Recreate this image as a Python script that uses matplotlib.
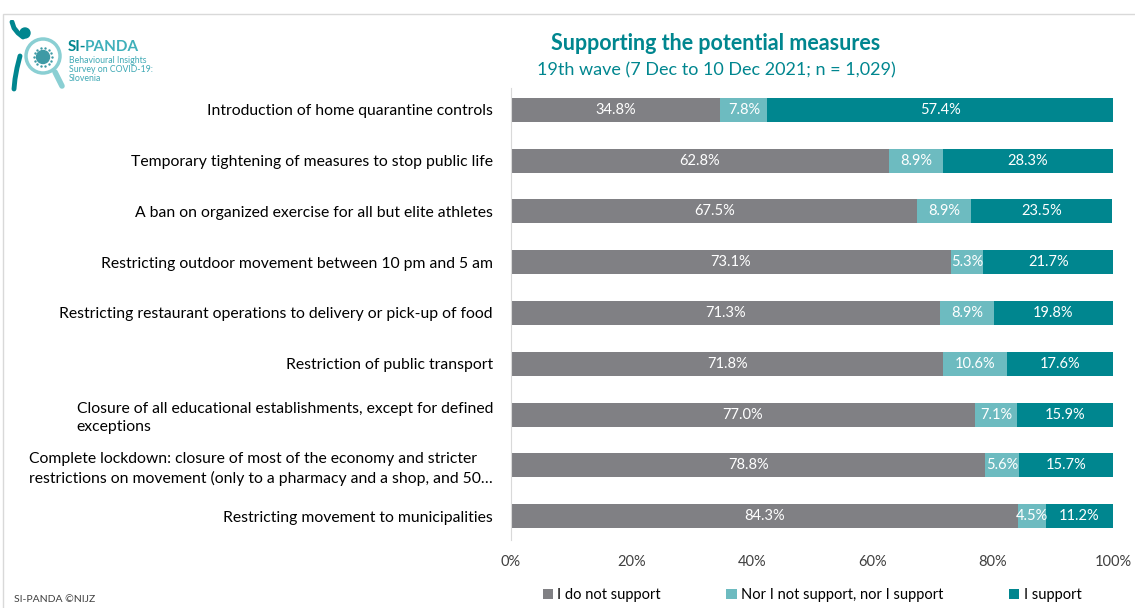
import matplotlib.pyplot as plt
import numpy as np
from matplotlib.patches import Circle, Rectangle

plt.rcParams['font.family'] = ['Lato', 'DejaVu Sans']

measures = [
    'Introduction of home quarantine controls',
    'Temporary tightening of measures to stop public life',
    'A ban on organized exercise for all but elite athletes',
    'Restricting outdoor movement between 10 pm and 5 am',
    'Restricting restaurant operations to delivery or pick-up of food',
    'Restriction of public transport',
    'Closure of all educational establishments, except for defined\nexceptions',
    'Complete lockdown: closure of most of the economy and stricter\nrestrictions on movement (only to a pharmacy and a shop, and 50\u2026',
    'Restricting movement to municipalities',
]
not_support = [34.8, 62.8, 67.5, 73.1, 71.3, 71.8, 77.0, 78.8, 84.3]
neutral = [7.8, 8.9, 8.9, 5.3, 8.9, 10.6, 7.1, 5.6, 4.5]
support = [57.4, 28.3, 23.5, 21.7, 19.8, 17.6, 15.9, 15.7, 11.2]

series_names = ['I do not support', 'Nor I not support, nor I support', 'I support']
colors = ['#808084', '#6DBBC0', '#00868F']
title_col = '#00868F'

W, H = 1135, 608
fig = plt.figure(figsize=(W / 100, H / 100), dpi=100)
ax = fig.add_axes([0.4502, 0.1118, 0.5304, 0.7435])

y = np.arange(len(measures))
left = np.zeros(len(measures))
for vals, name, col in zip([not_support, neutral, support], series_names, colors):
    vals = np.array(vals)
    ax.barh(y, vals, left=left, height=0.47, color=col, label=name)
    for yi, l, v in zip(y, left, vals):
        ax.text(l + v / 2, yi, f'{v:.1f}%', ha='center', va='center',
                color='white', fontsize=10.5)
    left += vals

ax.set_xlim(0, 100)
ax.set_ylim(8.47, -0.43)
ax.set_yticks(y)
ax.set_yticklabels(measures, fontsize=11.3, multialignment='left', linespacing=1.35)
ax.set_xticks(np.arange(0, 101, 20))
ax.set_xticklabels([f'{t}%' for t in range(0, 101, 20)], fontsize=10.5, color='#404040')
ax.tick_params(length=0)
ax.tick_params(axis='y', pad=13)
ax.tick_params(axis='x', pad=11)
for s in ['top', 'right', 'bottom']:
    ax.spines[s].set_visible(False)
ax.spines['left'].set_color('#d9d9d9')

ax.legend(loc='upper center', bbox_to_anchor=(0.5, -0.077), ncol=3, frameon=False,
          fontsize=10.5, handlelength=0.7, handleheight=0.7, handletextpad=0.3,
          columnspacing=4.5)

fig.text(716 / W, 1 - 44 / H, 'Supporting the potential measures', ha='center',
         va='center', fontsize=15.5, fontweight='bold', color=title_col)
fig.text(716 / W, 1 - 70 / H, '19th wave (7 Dec to 10 Dec 2021; n = 1,029)', ha='center',
         va='center', fontsize=13, color=title_col)
fig.text(14 / W, 1 - 599 / H, 'SI-PANDA \u00a9NIJZ', fontsize=7.5, color='#404040',
         va='center')

# frame lines at top and left
fig.add_artist(Rectangle((3 / W, -0.01), 1.1, 1 - 14 / H + 0.01, transform=fig.transFigure,
                         fill=False, edgecolor='#d9d9d9', linewidth=1))

# logo drawn in pixel units
lg = fig.add_axes([5 / W, 1 - 100 / H, 65 / W, 80 / H])
lg.set_xlim(5, 70)
lg.set_ylim(100, 20)
lg.axis('off')
lg.plot([20, 17, 15, 14], [56, 68, 79, 89], color='#00868F', linewidth=3.5,
        solid_capstyle='round')
lg.plot([55, 62], [72, 86], color='#8ACFD3', linewidth=4, solid_capstyle='round')
lg.add_patch(Circle((43, 56), 17, facecolor='white', edgecolor='#8ACFD3', linewidth=2.5))
ang = np.linspace(0, 2 * np.pi, 14, endpoint=False)
lg.scatter(43 + 9 * np.cos(ang), 57 + 9 * np.sin(ang), s=3, color='#3E9AA5', lw=0)
lg.add_patch(Circle((43, 57), 6.5, color='#3E9AA5'))
lg.add_patch(Circle((25, 33), 5, color='#00868F'))
lg.plot([12, 14, 18, 23], [22, 28, 33, 37], color='#00868F', linewidth=3.5,
        solid_capstyle='round')

fig.text(68 / W, 1 - 47 / H, 'SI-', fontsize=11, fontweight='bold', color='#00868F',
         va='center')
fig.text(85 / W, 1 - 47 / H, 'PANDA', fontsize=11, fontweight='bold', color='#3FB0BA',
         va='center')
fig.text(69 / W, 1 - 56 / H, 'Behavioural Insights\nSurvey on COVID-19:\nSlovenia',
         fontsize=6.3, color='#3FA9B5', va='top', linespacing=1.0)

fig.savefig('out.png', dpi=100)
